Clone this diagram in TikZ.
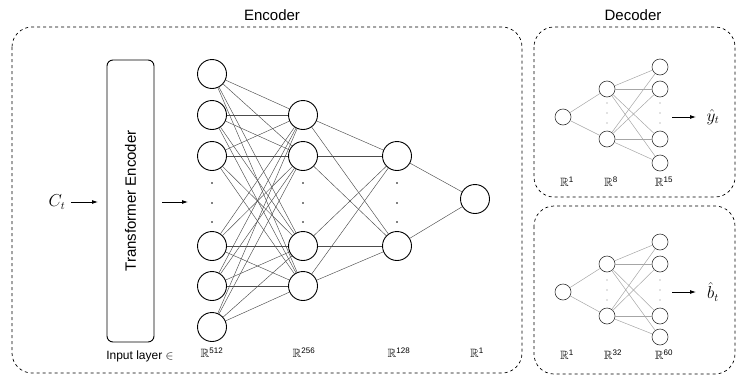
\documentclass[tikz,border=0pt]{standalone}
\usepackage{amssymb}
\usepackage{fontspec}
\setmainfont{Liberation Sans}
\usetikzlibrary{arrows.meta}
\tikzset{
  encn/.style={circle,draw=black,line width=0.9pt,minimum size=29pt,inner sep=0pt},
  decn/.style={circle,draw=black!80,line width=0.6pt,minimum size=16pt,inner sep=0pt},
  encl/.style={draw=black!70,line width=0.45pt},
  decl/.style={draw=black!35,line width=0.5pt},
  dbox/.style={draw=black,dashed,line width=0.7pt,rounded corners=20pt},
  arr/.style={-{Latex[length=6pt,width=4pt]},line width=0.8pt},
  ttl/.style={font=\fontsize{15}{18}\selectfont},
  lbl/.style={font=\fontsize{12}{14}\selectfont},
  mth/.style={font=\fontsize{16}{18}\selectfont},
  dotn/.style={circle,fill=black,inner sep=0pt,minimum size=1.6pt},
  ddotn/.style={circle,fill=black!50,inner sep=0pt,minimum size=1.2pt}
}
\begin{document}
\begin{tikzpicture}[x=1pt,y=-1pt]
\useasboundingbox (0,0) rectangle (738,378);
% boxes
\draw[dbox] (12,27) rectangle (522,373);
\draw[dbox] (534,27) rectangle (735,197);
\draw[dbox] (534,206) rectangle (735,374);
\node[ttl] (enct) at (272,15) {Encoder};
\node[ttl] (dect) at (633,15) {Decoder};
% transformer encoder
\node[draw=black,line width=0.9pt,rounded corners=6pt,minimum width=47pt,minimum height=282pt,inner sep=0pt] (te) at (130.5,201) {};
\node[ttl,rotate=90] (tet) at (130.5,201) {Transformer Encoder};
\node[mth] (ct) at (57,202) {$C_t$};
\coordinate (tein) at (98,202);
\coordinate (teo1) at (162,202);
\coordinate (teo2) at (188,202);
\draw[arr] (ct.east) ++(2,0) -- (tein);
\draw[arr] (teo1) -- (teo2);
\node[lbl] (inl) at (140,356) {Input layer $\in$};
% encoder layers
\foreach \i/\y in {1/74,2/115,3/156,4/246,5/286,6/327} \node[encn] (a\i) at (212,\y) {};
\foreach \i/\y in {1/115,2/156,3/246,4/286} \node[encn] (b\i) at (303,\y) {};
\foreach \i/\y in {1/156,2/246} \node[encn] (c\i) at (397,\y) {};
\node[encn] (d1) at (475,199) {};
\foreach \x/\n in {212/a,303/b,397/c}
  \foreach \y/\k in {183/1,203/2,222/3} \node[dotn] (dot\n\k) at (\x,\y) {};
\foreach \i in {1,...,6} \foreach \j in {1,...,4} \draw[encl] (a\i) -- (b\j);
\foreach \i in {1,...,4} \foreach \j in {1,2} \draw[encl] (b\i) -- (c\j);
\foreach \i in {1,2} \draw[encl] (c\i) -- (d1);
\node[lbl] (r1) at (212,353) {$\mathbb{R}$\textsuperscript{512}};
\node[lbl] (r2) at (304,353) {$\mathbb{R}$\textsuperscript{256}};
\node[lbl] (r3) at (399,353) {$\mathbb{R}$\textsuperscript{128}};
\node[lbl] (r4) at (477,353) {$\mathbb{R}$\textsuperscript{1}};
% decoder top
\node[decn] (e1) at (563,117) {};
\foreach \i/\y in {1/89,2/139} \node[decn] (f\i) at (607,\y) {};
\foreach \i/\y in {1/67,2/89,3/139,4/163} \node[decn] (g\i) at (660,\y) {};
\foreach \x/\n in {607/f,660/g}
  \foreach \y/\k in {103/1,113/2,123/3} \node[ddotn] (tdot\n\k) at (\x,\y) {};
\foreach \i in {1,2} \draw[decl] (e1) -- (f\i);
\foreach \i in {1,2} \foreach \j in {1,...,4} \draw[decl] (f\i) -- (g\j);
\coordinate (ya) at (672,117);
\coordinate (yb) at (696,117);
\draw[arr] (ya) -- (yb);
\node[mth] (yh) at (713,117) {$\hat{y}_t$};
\node[lbl] (s1) at (567,182) {$\mathbb{R}$\textsuperscript{1}};
\node[lbl] (s2) at (611,182) {$\mathbb{R}$\textsuperscript{8}};
\node[lbl] (s3) at (664,182) {$\mathbb{R}$\textsuperscript{15}};
% decoder bottom
\node[decn] (h1) at (563,292) {};
\foreach \i/\y in {1/264,2/316} \node[decn] (i\i) at (607,\y) {};
\foreach \i/\y in {1/242,2/264,3/316,4/337} \node[decn] (j\i) at (660,\y) {};
\foreach \x/\n in {607/i,660/j}
  \foreach \y/\k in {280/1,290/2,300/3} \node[ddotn] (bdot\n\k) at (\x,\y) {};
\foreach \i in {1,2} \draw[decl] (h1) -- (i\i);
\foreach \i in {1,2} \foreach \j in {1,...,4} \draw[decl] (i\i) -- (j\j);
\coordinate (ba) at (672,292);
\coordinate (bb) at (696,292);
\draw[arr] (ba) -- (bb);
\node[mth] (bh) at (713,292) {$\hat{b}_t$};
\node[lbl] (u1) at (567,355) {$\mathbb{R}$\textsuperscript{1}};
\node[lbl] (u2) at (613,355) {$\mathbb{R}$\textsuperscript{32}};
\node[lbl] (u3) at (664,355) {$\mathbb{R}$\textsuperscript{60}};
\end{tikzpicture}
\end{document}
